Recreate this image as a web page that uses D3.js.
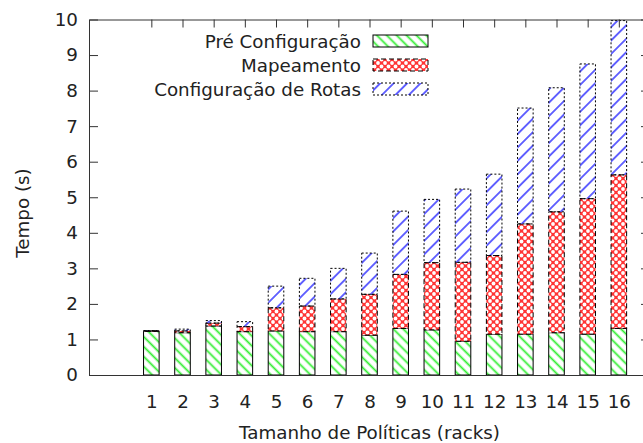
<!DOCTYPE html>
<html>
<head>
<meta charset="utf-8">
<script src="https://cdn.jsdelivr.net/npm/d3@7"></script>
<style>
  html, body { margin: 0; padding: 0; background: #fff; }
  svg { display: block; font-family: "DejaVu Sans", sans-serif; }
</style>
</head>
<body>
<svg id="chart" width="643" height="443"></svg>
<script>
// ---- data ----
const categories = ["1","2","3","4","5","6","7","8","9","10","11","12","13","14","15","16"];
const seriesNames = ["Pré Configuração", "Mapeamento", "Configuração de Rotas"];
const preConfig = [1.23,1.19,1.38,1.22,1.24,1.22,1.22,1.12,1.31,1.27,0.95,1.15,1.15,1.19,1.15,1.31];
const mapeamento = [0.01,0.05,0.08,0.14,0.65,0.72,0.92,1.15,1.52,1.89,2.22,2.21,3.10,3.40,3.81,4.32];
const rotas = [0.01,0.05,0.07,0.14,0.61,0.78,0.86,1.16,1.78,1.78,2.06,2.29,3.26,3.49,3.79,4.34];
const yTicks = [0,1,2,3,4,5,6,7,8,9,10];

(function () {
const svg = d3.select("#chart");
const mLeft = 89, mRight = 650, mTop = 19.5, mBottom = 375;
const FS = 18.3;

const x = d3.scaleLinear().domain([-2, 16]).range([mLeft, mRight]);
const y = d3.scaleLinear().domain([0, 10]).range([mBottom, mTop]);

// ---- patterns ----
const defs = svg.append("defs");
function hatch(id, color, spacing, angle) {
  const p = defs.append("pattern").attr("id", id)
    .attr("patternUnits", "userSpaceOnUse")
    .attr("width", spacing).attr("height", spacing)
    .attr("patternTransform", `rotate(${angle})`);
  p.append("line").attr("x1", spacing/2).attr("y1", 0).attr("x2", spacing/2).attr("y2", spacing)
    .attr("stroke", color).attr("stroke-width", 1.8);
}
hatch("pGreen", "#33ee33", 7, -45);
hatch("pBlue", "#5555ff", 9.5, 45);
const pr = defs.append("pattern").attr("id", "pRed")
  .attr("patternUnits", "userSpaceOnUse").attr("width", 7).attr("height", 7);
pr.append("rect").attr("width", 7).attr("height", 7).attr("fill", "#ff3535");
[[0,0],[7,0],[0,7],[7,7],[3.5,3.5]].forEach(([cx,cy]) =>
  pr.append("circle").attr("cx", cx).attr("cy", cy).attr("r", 1.9).attr("fill", "#fff"));

const styles = [
  {fill: "url(#pGreen)", dash: null},
  {fill: "url(#pRed)", dash: "5,3"},
  {fill: "url(#pBlue)", dash: "2,2"}
];

// ---- stacked bars ----
const table = categories.map((c, i) => ({i, v: [preConfig[i], mapeamento[i], rotas[i]]}));
const stack = d3.stack().keys([0,1,2]).value((d, k) => d.v[k]);
const layers = stack(table);
layers.forEach((layer, k) => {
  svg.append("g").selectAll("rect").data(layer).join("rect")
    .attr("x", d => x(d.data.i - 0.25))
    .attr("width", d => x(d.data.i + 0.25) - x(d.data.i - 0.25))
    .attr("y", d => y(d[1]))
    .attr("height", d => y(d[0]) - y(d[1]))
    .attr("fill", styles[k].fill)
    .attr("stroke", "#000").attr("stroke-width", 1)
    .attr("stroke-dasharray", styles[k].dash);
});

// ---- axes ----
const axisColor = "#333";
const gy = svg.append("g").attr("transform", `translate(${mLeft},0)`)
  .call(d3.axisLeft(y).tickValues(yTicks).tickSizeInner(-9).tickSizeOuter(0).tickPadding(11));
const gyr = svg.append("g").attr("transform", `translate(${mRight},0)`)
  .call(d3.axisRight(y).tickValues(yTicks).tickSizeInner(-9).tickSizeOuter(0).tickFormat(""));
const gxt = svg.append("g").attr("transform", `translate(0,${mTop})`)
  .call(d3.axisTop(x).tickValues(d3.range(categories.length)).tickSizeInner(-8).tickSizeOuter(0).tickFormat(""));
const gx = svg.append("g").attr("transform", `translate(0,${mBottom})`)
  .call(d3.axisBottom(x).tickValues(d3.range(categories.length)).tickSize(0).tickPadding(20)
    .tickFormat(i => categories[i]));
[gy, gyr, gxt, gx].forEach(g => {
  g.selectAll("path.domain").attr("stroke", axisColor);
  g.selectAll(".tick line").attr("stroke", axisColor);
  g.selectAll("text").attr("font-size", FS).attr("font-family", "DejaVu Sans, sans-serif").attr("fill", "#222");
});
gx.select("path.domain").attr("d", `M${mLeft},0.5H${mRight}`);

// axis titles
svg.append("text").attr("x", (mLeft + mRight) / 2).attr("y", 439)
  .attr("text-anchor", "middle").attr("font-size", FS).attr("fill", "#222")
  .text("Tamanho de Políticas (racks)");
svg.append("text").attr("transform", "translate(29,213) rotate(-90)")
  .attr("text-anchor", "middle").attr("font-size", FS).attr("fill", "#222")
  .text("Tempo (s)");

// ---- legend ----
const lg = svg.append("g");
seriesNames.forEach((name, k) => {
  const base = 47.5 + k * 24;
  lg.append("text").attr("x", 361).attr("y", base).attr("text-anchor", "end")
    .attr("font-size", FS).attr("fill", "#222").text(name);
  lg.append("rect").attr("x", 373).attr("y", base - 12.5).attr("width", 55).attr("height", 12)
    .attr("fill", styles[k].fill).attr("stroke", "#000").attr("stroke-width", 1)
    .attr("stroke-dasharray", styles[k].dash);
});
})();
</script>
</body>
</html>
